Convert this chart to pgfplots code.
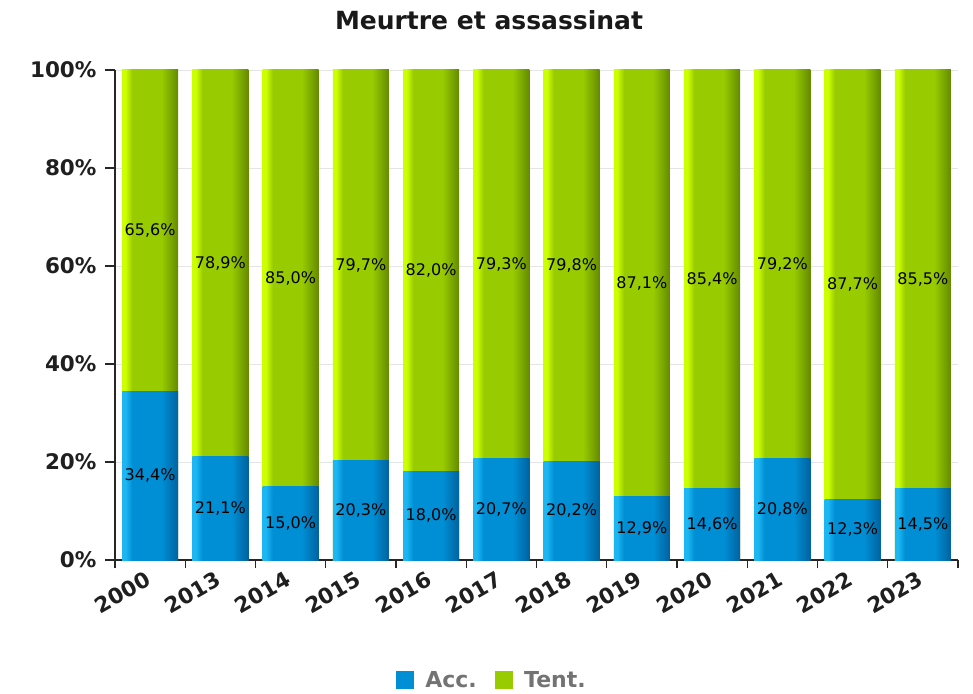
\documentclass[border=0pt]{standalone}
\usepackage{fontspec}
\setmainfont{DejaVu Sans}
\usepackage{pgfplots}
\pgfplotsset{compat=1.18}
\usepackage{pgfplotstable}

\definecolor{bL}{HTML}{1CB6F2}
\definecolor{bM}{HTML}{008FD5}
\definecolor{bD}{HTML}{00629E}
\definecolor{gL}{HTML}{CCFF00}
\definecolor{gM}{HTML}{99CC00}
\definecolor{gD}{HTML}{638A00}

\pgfdeclarehorizontalshading{bluebar}{100bp}{color(0bp)=(bL); color(25bp)=(bL); color(28bp)=(bL); color(34bp)=(bM); color(60bp)=(bM); color(75bp)=(bD); color(100bp)=(bD)}
\pgfdeclarehorizontalshading{greenbar}{100bp}{color(0bp)=(gL); color(25bp)=(gL); color(28bp)=(gL); color(34bp)=(gM); color(60bp)=(gM); color(75bp)=(gD); color(100bp)=(gD)}

\pgfplotstableread{
x acc tent
0 34.4 65.6
1 21.1 78.9
2 15.0 85.0
3 20.3 79.7
4 18.0 82.0
5 20.7 79.3
6 20.2 79.8
7 12.9 87.1
8 14.6 85.4
9 20.8 79.2
10 12.3 87.7
11 14.5 85.5
}\data

\pgfplotsset{
  lbl/.style={draw=none, mark=none, forget plot, point meta=explicit,
    nodes near coords={\pgfmathprintnumber[use comma, fixed, fixed zerofill, precision=1]{\pgfplotspointmeta}\%},
    every node near coord/.style={anchor=center, font=\fontsize{16}{16}\selectfont, text=black}},
}

\begin{document}
\begin{tikzpicture}
\useasboundingbox (-115pt,-133pt) rectangle (858pt,560pt);
\begin{axis}[
  at={(0pt,0pt)}, anchor=south west,
  scale only axis, width=843pt, height=490pt,
  xmin=-0.5, xmax=11.5, ymin=0, ymax=100,
  axis x line*=bottom, axis y line*=left,
  axis line style={black!85, line width=1.5pt},
  xtick={0,...,11},
  xticklabels={2000,2013,2014,2015,2016,2017,2018,2019,2020,2021,2022,2023},
  major x tick style={draw=none},
  minor xtick={-0.5,0.5,...,11.5},
  minor x tick style={black!85, line width=1.2pt},
  minor tick length=8pt,
  ytick={0,20,...,100},
  major tick length=10pt,
  major y tick style={black!85, line width=1.2pt},
  tick align=outside,
  ymajorgrids, grid style={black!10, line width=0.8pt},
  yticklabel={\pgfmathprintnumber{\tick}\%},
  /pgf/number format/assume math mode=true,
  ticklabel style={font=\fontsize{21.5}{21.5}\selectfont\bfseries, text=black!88},
  yticklabel style={xshift=-5pt},
  xticklabel style={rotate=30, anchor=north east, xshift=-2pt, yshift=6pt},
  legend style={at={(axis description cs:0.447,-0.245)}, anchor=center, draw=none, fill=none,
    legend columns=2, font=\fontsize{22}{22}\selectfont\bfseries, text=black!55,
    /tikz/every odd column/.append style={column sep=10pt},
    /tikz/every even column/.append style={column sep=16pt}},
]
\pgfplotsinvokeforeach{0,...,11}{
\addplot[ybar, bar width=56pt, bar shift=0pt, draw=none, shade, shading=greenbar, forget plot,
  restrict x to domain=#1:#1]
  table[x=x, y expr=\thisrow{acc}+\thisrow{tent}] {\data};
\addplot[ybar, bar width=56pt, bar shift=0pt, draw=none, shade, shading=bluebar, forget plot,
  restrict x to domain=#1:#1]
  table[x=x, y=acc] {\data};
}
\addplot[lbl] table[x=x, y expr=\thisrow{acc}/2, meta=acc] {\data};
\addplot[lbl] table[x=x, y expr=\thisrow{acc}+\thisrow{tent}/2, meta=tent] {\data};
\addlegendimage{legend image code/.code={\fill[bM] (0pt,-8.5pt) rectangle (17pt,8.5pt);}}
\addlegendentry{Acc.}
\addlegendimage{legend image code/.code={\fill[gM] (0pt,-8.5pt) rectangle (17pt,8.5pt);}}
\addlegendentry{Tent.}
\end{axis}
\node[font=\fontsize{25}{25}\selectfont\bfseries, text=black!90] at (374pt,540pt) {Meurtre et assassinat};
\end{tikzpicture}
\end{document}
